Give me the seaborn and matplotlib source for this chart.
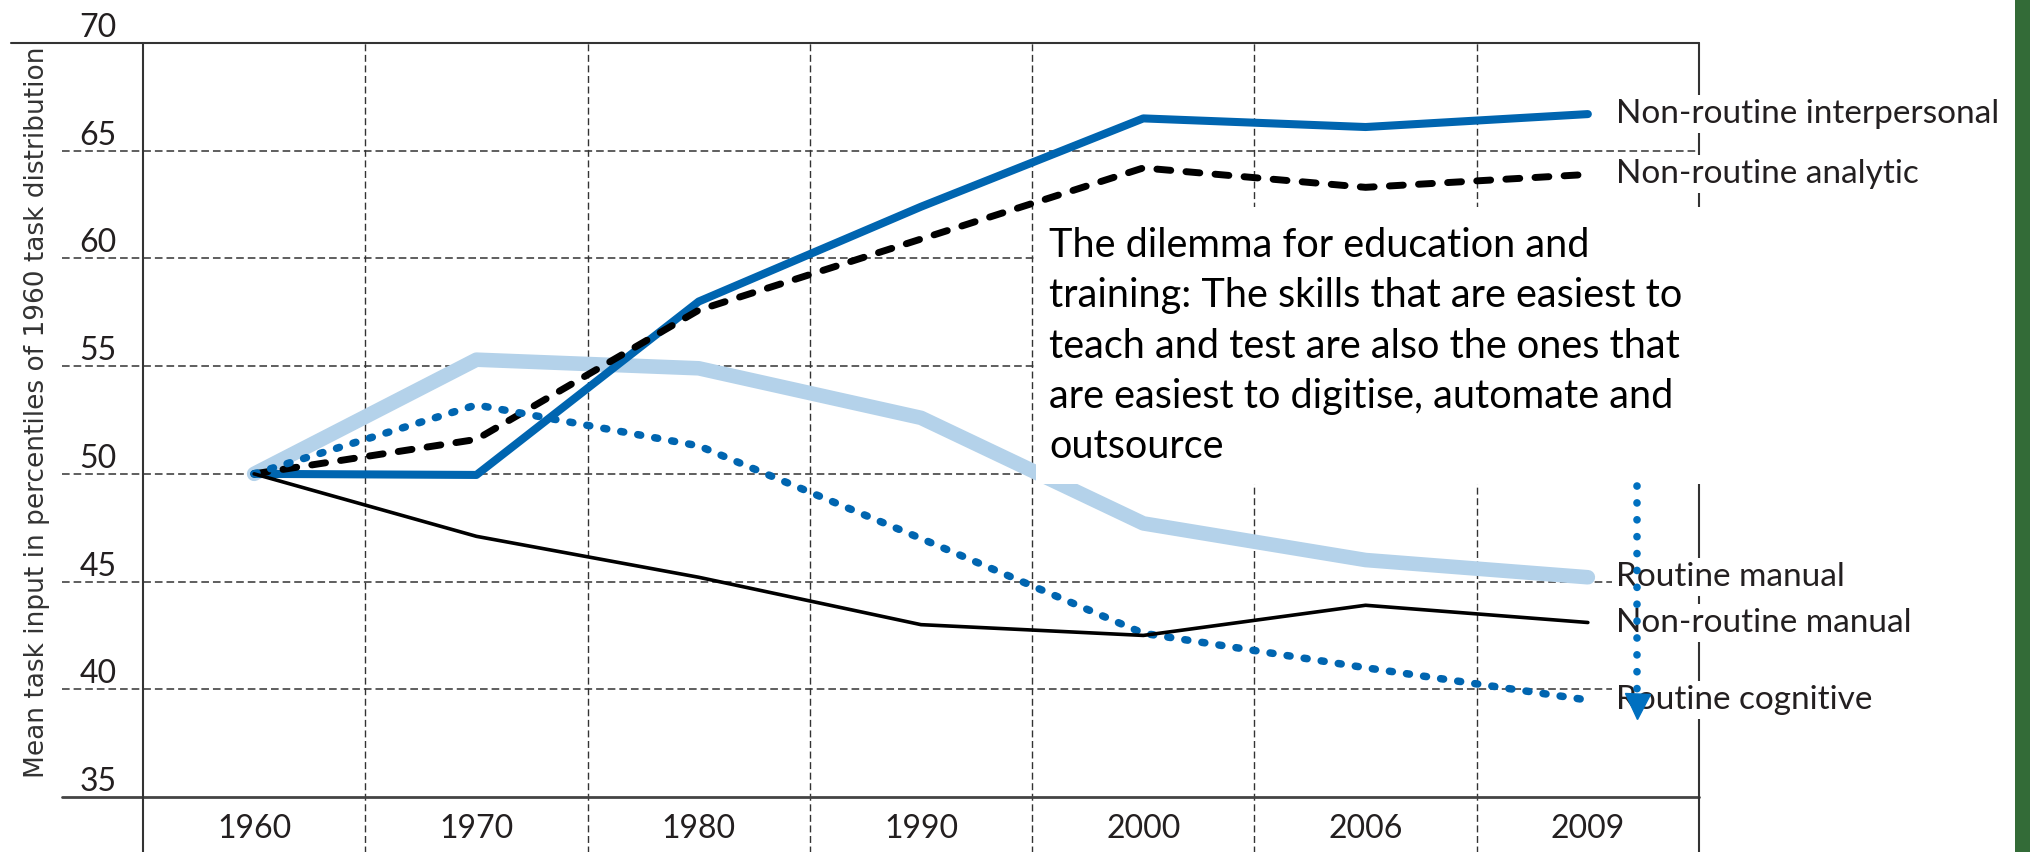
import matplotlib
matplotlib.use("Agg")
import matplotlib.pyplot as plt
from matplotlib.patches import Rectangle
from matplotlib.lines import Line2D
import seaborn as sns
import pandas as pd

# values (percentiles of 1960 task distribution)
years = ["1960", "1970", "1980", "1990", "2000", "2006", "2009"]
routine_manual = [50.0, 55.3, 54.9, 52.6, 47.7, 46.0, 45.2]
nonroutine_interpersonal = [50.0, 49.95, 58.0, 62.4, 66.5, 66.1, 66.7]
nonroutine_analytic = [50.0, 51.6, 57.6, 60.9, 64.2, 63.3, 63.9]
routine_cognitive = [50.0, 53.2, 51.3, 47.0, 42.6, 41.0, 39.5]
nonroutine_manual = [50.0, 47.1, 45.2, 43.0, 42.5, 43.9, 43.1]
yticks = [35, 40, 45, 50, 55, 60, 65, 70]

ylabel = "Mean task input in percentiles of 1960 task distribution"
note = ("The dilemma for education and\n"
        "training: The skills that are easiest to\n"
        "teach and test are also the ones that\n"
        "are easiest to digitise, automate and\n"
        "outsource")

df = pd.DataFrame({
    "year": years,
    "Routine manual": routine_manual,
    "Non-routine interpersonal": nonroutine_interpersonal,
    "Non-routine analytic": nonroutine_analytic,
    "Routine cognitive": routine_cognitive,
    "Non-routine manual": nonroutine_manual,
})
long_df = df.melt(id_vars="year", var_name="task", value_name="value")

# drawing order = bottom to top
styles = {
    "Routine manual": dict(color="#B4D2EA", lw=10.5, dash=None),
    "Non-routine interpersonal": dict(color="#0065B0", lw=5.8, dash=None),
    "Non-routine analytic": dict(color="black", lw=5.0, dash=(2.0, 2.2)),
    "Routine cognitive": dict(color="#0065B0", lw=5.4, dash=(0.4, 1.9)),
    "Non-routine manual": dict(color="black", lw=2.6, dash=None),
}

sns.set_theme(style="white")
plt.rcParams["font.family"] = ["Lato", "DejaVu Sans"]
text_col = "#231F20"
grid_col = "#333333"

W, H = 2031, 852
fig = plt.figure(figsize=(W / 100, H / 100), dpi=100)
ax = fig.add_axes([143 / W, 55 / H, 1556 / W, 754 / H])

for z, (task, st) in enumerate(styles.items()):
    sub = long_df[long_df["task"] == task]
    sns.lineplot(data=sub, x="year", y="value", ax=ax, color=st["color"],
                 linewidth=st["lw"], sort=False, errorbar=None, zorder=3 + z)
    line = ax.lines[-1]
    line.set_solid_capstyle("round")
    line.set_solid_joinstyle("round")
    if st["dash"] is not None:
        line.set_dashes(st["dash"])
        line.set_dash_capstyle("round")
        line.set_dash_joinstyle("round")
    # series label at the right end of each line
    ax.annotate(task, xy=(len(years) - 1, sub["value"].iloc[-1]), xytext=(20, 0),
                textcoords="offset points", ha="left", va="center", fontsize=24,
                color=text_col, zorder=20, annotation_clip=False,
                bbox=dict(boxstyle="square,pad=0.12", fc="white", ec="none"))

ax.set_xlim(-0.5, len(years) - 0.5)
ax.set_ylim(35, 70)
for s in ax.spines.values():
    s.set_visible(False)

# grid and frame, partly reaching outside the plot box like the original
below = -0.08
left_grid = (62 - 143) / 1556
for v in yticks[1:-1]:
    ax.axhline(v, xmin=left_grid, xmax=1, color=grid_col, lw=1.1,
               dashes=(5, 2.6), clip_on=False, zorder=1)
ax.axhline(35, xmin=left_grid, xmax=1, color="#444444", lw=2.0, clip_on=False, zorder=2)
ax.axhline(70, xmin=(11 - 143) / 1556, xmax=1, color=grid_col, lw=1.5, clip_on=False, zorder=2)
for i in range(len(years) - 1):
    ax.axvline(i + 0.5, ymin=below, ymax=1, color=grid_col, lw=1.0,
               dashes=(5, 2.6), clip_on=False, zorder=1)
for xv in (-0.5, len(years) - 0.5):
    ax.axvline(xv, ymin=below, ymax=1, color=grid_col, lw=1.5, clip_on=False, zorder=2)

ax.set_yticks(yticks)
ax.tick_params(axis="both", length=0, labelsize=23, labelcolor=text_col)
ax.tick_params(axis="y", pad=19)
ax.tick_params(axis="x", pad=12)
for t in ax.get_yticklabels():
    t.set_verticalalignment("bottom")
ax.set_xlabel("")
ax.set_ylabel(ylabel, fontsize=19, color="#333333",
              family=["Liberation Sans Narrow", "DejaVu Sans"])
ax.yaxis.set_label_coords((37 - 143) / 1556, 0.51)
ax.yaxis.label.set_verticalalignment("center")

# white panel with the note (baseline of the last line given)
fig.patches.append(Rectangle((1036 / W, 1 - 484 / H), (1720 - 1036) / W, (484 - 207) / H,
                             transform=fig.transFigure, fc="white", ec="none", zorder=5))
fig.text(1049 / W, 1 - 458 / H, note, ha="left", va="baseline", fontsize=28.5,
         color="black", linespacing=1.44, zorder=6)

# dotted blue arrow
ax_x = 1637 / W
fig.lines.append(Line2D([ax_x, ax_x], [1 - 486 / H, 1 - 698 / H], transform=fig.transFigure,
                        color="#0070C0", lw=5.5, dashes=(0.01, 2.2),
                        dash_capstyle="round", zorder=7))
fig.lines.append(Line2D([ax_x], [1 - 706 / H], transform=fig.transFigure, marker="v",
                        markersize=18, color="#0070C0", lw=0, zorder=7))

# green strip on the right edge
fig.patches.append(Rectangle((2015 / W, 0), 16 / W, 1, transform=fig.transFigure,
                             fc="#336B37", ec="none", zorder=5))

fig.savefig("out.png", dpi=100)
